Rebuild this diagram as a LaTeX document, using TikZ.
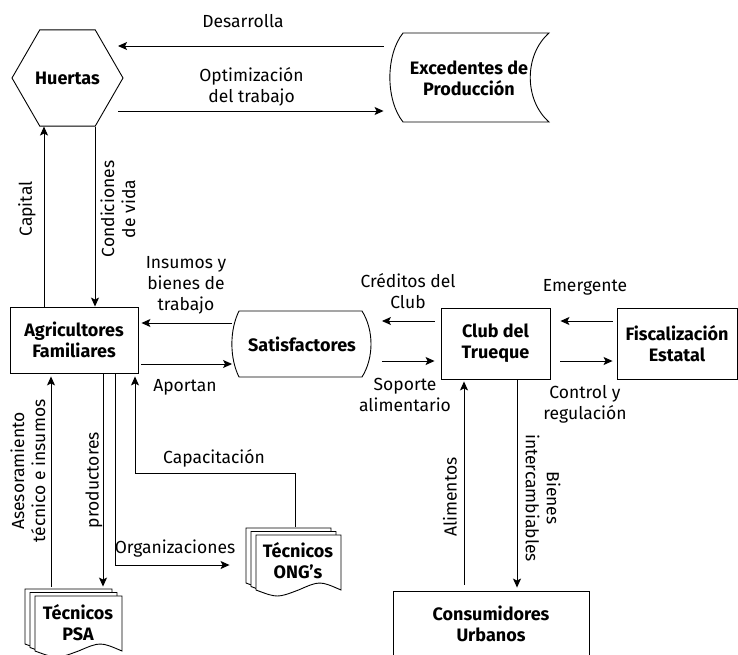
\documentclass[tikz,border=0pt]{standalone}
\usepackage{fontspec}
\setmainfont{Fira Sans}
\usetikzlibrary{arrows.meta,shapes.geometric}

\begin{document}
\begin{tikzpicture}[x=1pt,y=-1pt,line width=0.9pt,
    font=\fontsize{17.5}{21}\selectfont,
    box/.style={draw,font=\fontsize{18}{21}\selectfont\bfseries,align=center,inner sep=0pt},
    txt/.style={font=\fontsize{18}{21}\selectfont\bfseries,align=center,inner sep=0pt},
    tag/.style={align=center,inner sep=0pt},
    flow/.style={-{Stealth[length=9pt,width=8pt,inset=2pt]}}]
  \useasboundingbox (0,0) rectangle (738,655);

  % figuras
  \node[box,regular polygon,regular polygon sides=6,minimum size=111pt] (hue) at (67.5,78) {Huertas};
  \draw (403,33) -- (549,33) .. controls (524,55) and (524,100) .. (549,122) -- (403,122)
        .. controls (385.5,100) and (385.5,55) .. (403,33) -- cycle;
  \node[txt,minimum width=170pt,minimum height=89pt] (exc) at (469,78) {Excedentes de\\Producción};
  \node[box,minimum width=128pt,minimum height=66pt] (agr) at (74,340) {Agricultores\\Familiares};
  \draw (239,311) -- (362,311) .. controls (374,330) and (374,358) .. (362,377) -- (239,377)
        .. controls (229.5,358) and (229.5,330) .. (239,311) -- cycle;
  \node[txt,minimum width=139pt,minimum height=66pt] (sat) at (302,344) {Satisfactores};
  \node[box,minimum width=109pt,minimum height=71pt] (club) at (495.5,343.5) {Club del\\Trueque};
  \node[box,minimum width=120pt,minimum height=71pt] (fis) at (677,343.5) {Fiscalización\\Estatal};
  \node[box,minimum width=196pt,minimum height=66pt] (con) at (491,624) {Consumidores\\Urbanos};

  % documentos
  \foreach \px/\py/\w in {35/596/87, 256/535/85}
    \foreach \o in {10,5,0}
      \draw[fill=white,shift={(\px-\o,\py-0.7*\o)}] (0,0) -- (\w,0) -- (\w,55)
        .. controls (0.75*\w,45.7) .. (0.5*\w,55) .. controls (0.25*\w,63) .. (0,55) -- cycle;
  \node[txt,minimum height=72pt] (psa) at (78,623) {Técnicos\\PSA};
  \node[txt,minimum width=100pt,minimum height=68pt] (ong) at (298,561) {Técnicos\\ONG's};

  % flechas
  \draw[flow] (exc.west |- 0,46) -- (118,46);
  \draw[flow] (118,111) -- (exc.west |- 0,111);
  \draw[flow] (agr.north -| 44,0) -- (hue.south -| 44,0);
  \draw[flow] (hue.south -| 95,0) -- (agr.north -| 95,0);
  \draw[flow,shorten >=3pt] (sat.west |- 0,323) -- (agr.east |- 0,323);
  \draw[flow,shorten <=3pt] (agr.east |- 0,364) -- (sat.west |- 0,364);
  \draw[flow,shorten <=6pt,shorten >=10pt] (club.west |- 0,321) -- (sat.east |- 0,321);
  \draw[flow,shorten <=10pt,shorten >=6pt] (sat.east |- 0,361) -- (club.west |- 0,361);
  \draw[flow,shorten <=4pt,shorten >=10pt] (fis.west |- 0,321) -- (club.east |- 0,321);
  \draw[flow,shorten <=10pt,shorten >=4pt] (club.east |- 0,361) -- (fis.west |- 0,361);
  \draw[flow,shorten <=6pt,shorten >=2pt] (con.north -| 464,0) -- (club.south -| 464,0);
  \draw[flow,shorten >=3pt] (club.south -| 517,0) -- (con.north -| 517,0);
  \draw[flow,shorten >=3pt] (psa.north -| 51,0) -- (agr.south -| 51,0);
  \draw[flow] (agr.south -| 103,0) -- (psa.north -| 103,0);
  \draw[flow,shorten >=18pt] (agr.south -| 115,0) |- (ong.west |- 0,565);
  \draw[flow,shorten >=3pt] (ong.north -| 295,0) -- (295,473) -| (agr.south -| 135,0);

  % etiquetas
  \node[tag] (l1) at (243,21) {Desarrolla};
  \node[tag] (l2) at (251.5,87) {Optimización\\del trabajo};
  \node[tag,rotate=90] (l3) at (27,209) {Capital};
  \node[tag,rotate=90] (l4) at (118,209) {Condiciones\\de vida};
  \node[tag] (l5) at (186,285) {Insumos y\\bienes de\\trabajo};
  \node[tag] (l6) at (185,387) {Aportan};
  \node[tag] (l7) at (408,291) {Créditos del\\Club};
  \node[tag] (l8) at (405,395) {Soporte\\alimentario};
  \node[tag] (l9) at (585,287) {Emergente};
  \node[tag] (l10) at (585,404) {Control y\\regulación};
  \node[tag,rotate=90] (l11) at (450,497) {Alimentos};
  \node[tag,rotate=-90] (l12) at (543,498) {Bienes\\intercambiables};
  \node[tag,rotate=90] (l13) at (28,471) {Asesoramiento\\técnico e insumos};
  \node[tag,rotate=90] (l14) at (94,480) {productores};
  \node[tag] (l15) at (175,549) {Organizaciones};
  \node[tag] (l16) at (214,458) {Capacitación};
\end{tikzpicture}
\end{document}
